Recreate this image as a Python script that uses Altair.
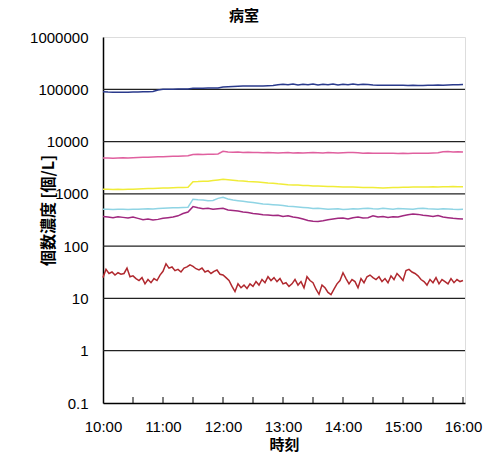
import altair as alt
import pandas as pd

# time in minutes after 10:00
minutes5 = list(range(0, 361, 5))
minutes3 = list(range(0, 361, 3))

navy = [90000, 88500, 88000, 88000, 87500, 88000,
        88500, 89000, 89500, 90000, 90500, 97000,
        100000, 100000, 100500, 101000, 101000, 101500,
        105000, 105000, 105000, 105500, 106000, 106000,
        111000, 112000, 113000, 114000, 115000, 115000,
        115500, 116000, 116000, 117000, 118000, 122000,
        125000, 122000, 126000, 121000, 125000, 122000,
        126000, 121000, 125000, 122000, 126000, 121000,
        125000, 122000, 126000, 122000, 125000, 123000,
        121000, 120000, 120000, 119500, 119000, 119000,
        119500, 118000, 120000, 118500, 118000, 119000,
        120000, 121000, 120000, 121000, 122000, 122000,
        123000]

pink = [4850, 4850, 4800, 4850, 4900, 4850,
        4900, 4950, 5000, 5000, 5050, 5100,
        5150, 5200, 5250, 5250, 5300, 5350,
        5650, 5700, 5650, 5700, 5750, 5800,
        6500, 6300, 6250, 6300, 6200, 6250,
        6150, 6200, 6100, 6150, 6100, 6050,
        6100, 6150, 6050, 6100, 6050, 6100,
        6150, 6100, 6050, 6150, 6100, 6050,
        6100, 6150, 6200, 6100, 6000, 6050,
        5950, 6000, 5950, 6000, 5950, 5900,
        5950, 5900, 5950, 6000, 5950, 6000,
        6050, 6100, 6400, 6450, 6350, 6400,
        6300]

yellow = [1230, 1220, 1210, 1220, 1210, 1220,
          1230, 1240, 1250, 1260, 1270, 1280,
          1290, 1300, 1310, 1320, 1330, 1340,
          1700, 1720, 1750, 1740, 1800, 1850,
          1900, 1860, 1820, 1780, 1760, 1720,
          1700, 1680, 1650, 1620, 1600, 1560,
          1530, 1500, 1480, 1470, 1450, 1440,
          1420, 1410, 1400, 1390, 1380, 1370,
          1360, 1360, 1350, 1340, 1330, 1320,
          1320, 1310, 1300, 1310, 1320, 1330,
          1340, 1340, 1350, 1350, 1360, 1360,
          1370, 1360, 1370, 1370, 1380, 1370,
          1370]

cyan = [510, 505, 500, 505, 510, 500,
        505, 510, 515, 520, 515, 525,
        530, 535, 540, 545, 550, 555,
        790, 770, 760, 740, 750, 820,
        860, 800, 760, 740, 720, 700,
        680, 660, 640, 630, 620, 610,
        600, 580, 570, 560, 550, 540,
        525, 530, 520, 510, 515, 520,
        500, 510, 520, 515, 525, 530,
        520, 515, 530, 520, 510, 525,
        520, 515, 510, 525, 530, 520,
        515, 510, 520, 515, 505, 500,
        505]

purple = [370, 360, 350, 365, 355, 345,
          360, 340, 320, 330, 315, 325,
          340, 350, 360, 380, 420, 450,
          570, 540, 520, 530, 510, 520,
          530, 490, 480, 470, 450, 440,
          420, 410, 400, 395, 385, 390,
          370, 380, 360, 350, 330, 310,
          300, 295, 305, 320, 330, 340,
          345, 330, 350, 360, 345, 350,
          380, 360, 370, 355, 365, 360,
          380, 400, 410, 405, 390, 380,
          370, 385, 360, 350, 340, 335,
          330]

red = [25, 36, 30, 32, 28, 31, 29, 30, 38, 26,
       27, 24, 22, 25, 19, 23, 20, 24, 22, 28,
       33, 46, 38, 40, 34, 36, 32, 38, 40, 44,
       41, 37, 35, 38, 32, 34, 30, 33, 35, 29,
       28, 25, 22, 17, 13.5, 19, 16, 18, 15.5, 19,
       17, 21, 18, 23, 20, 26, 22, 25, 21, 24,
       19, 20, 17, 19, 23, 18, 21, 16, 26, 22,
       20, 15, 12, 18, 16, 13, 11.8, 15, 19, 22,
       31, 24, 19, 23, 21, 16, 24, 20, 26, 28,
       25, 23, 26, 21, 24, 20, 27, 23, 30, 26,
       22, 34, 36, 32, 30, 27, 23, 21, 18, 23,
       20, 25, 19, 23, 21, 19, 24, 20, 23, 21,
       22]

series_names = ["navy", "pink", "yellow", "cyan", "purple", "red"]
series_colors = ["#2a3a8c", "#e0609f", "#f0ec38", "#8fd4e4", "#a0287f", "#b0282e"]

grid_values = [1, 10, 100, 1000, 10000, 100000]
y_label_values = [0.1, 1, 10, 100, 1000, 10000, 100000, 1000000]
x_label_values = [0, 60, 120, 180, 240, 300, 360]
tick_minutes = [30, 60, 90, 120, 150, 180, 210, 240, 270, 300, 330, 360]

rows = []
for name, ts, vs in [("navy", minutes5, navy), ("pink", minutes5, pink),
                     ("yellow", minutes5, yellow), ("cyan", minutes5, cyan),
                     ("purple", minutes5, purple), ("red", minutes3, red)]:
    for t, v in zip(ts, vs):
        rows.append({"t": t, "v": v, "s": name})
df = pd.DataFrame(rows)
grid_df = pd.DataFrame({"v": grid_values})
tick_df = pd.DataFrame({"t": tick_minutes})

LAB_FONT = "Liberation Sans"
CJK_FONT = "Noto Sans CJK JP"

xscale = alt.Scale(domain=[0, 362], nice=False, zero=False)
yscale = alt.Scale(type="log", domain=[0.1, 1000000], nice=False)

xaxis = alt.Axis(values=x_label_values, labelExpr="(10 + datum.value/60) + ':00'",
                 grid=False, ticks=False, domainColor="black", domainWidth=1.5,
                 labelFont=LAB_FONT, labelFontSize=15, labelColor="black",
                 labelPadding=16, labelFlush=False, labelOverlap=False,
                 title="時刻", titleFont=CJK_FONT,
                 titleFontSize=15, titleFontWeight="bold", titleColor="black",
                 titlePadding=3)
yaxis = alt.Axis(values=y_label_values,
                 labelExpr="datum.value < 1 ? '0.1' : format(datum.value, 'd')",
                 grid=False, ticks=False, domainColor="black", domainWidth=1.5,
                 labelFont=LAB_FONT, labelFontSize=15, labelColor="black",
                 labelPadding=15, labelFlush=False, labelOverlap=False,
                 title="個数濃度 [個/L]", titleFont=CJK_FONT,
                 titleFontSize=16, titleFontWeight="bold", titleColor="black",
                 titleX=-47, titleY=173, titleAngle=-90,
                 titleAlign="center", titleBaseline="bottom")

grid = alt.Chart(grid_df).mark_rule(color="#222", strokeWidth=1.3).encode(
    y=alt.Y("v:Q", scale=yscale, axis=yaxis)
)

lines = alt.Chart(df).mark_line(strokeWidth=1.5).encode(
    x=alt.X("t:Q", scale=xscale, axis=xaxis),
    y=alt.Y("v:Q", scale=yscale, axis=yaxis),
    color=alt.Color("s:N", scale=alt.Scale(domain=series_names, range=series_colors), legend=None),
)

ticks = alt.Chart(tick_df).mark_rule(color="black", strokeWidth=1).encode(
    x=alt.X("t:Q", scale=xscale, axis=xaxis),
    y=alt.value(360),
    y2=alt.value(366),
)

chart = alt.layer(grid, lines, ticks).properties(
    width=362,
    height=366,
    autosize=alt.AutoSizeParams(type="none"),
    padding={"left": 103, "top": 37, "right": 19, "bottom": 54},
    title=alt.TitleParams("病室", font=CJK_FONT, fontSize=15, fontWeight="bold",
                          color="black", anchor="middle", frame="group", dx=-40, offset=6),
).configure_view(stroke="#999", strokeWidth=1).configure(background="white")

chart.save("out.html", embed_options={"renderer": "svg", "actions": False})
